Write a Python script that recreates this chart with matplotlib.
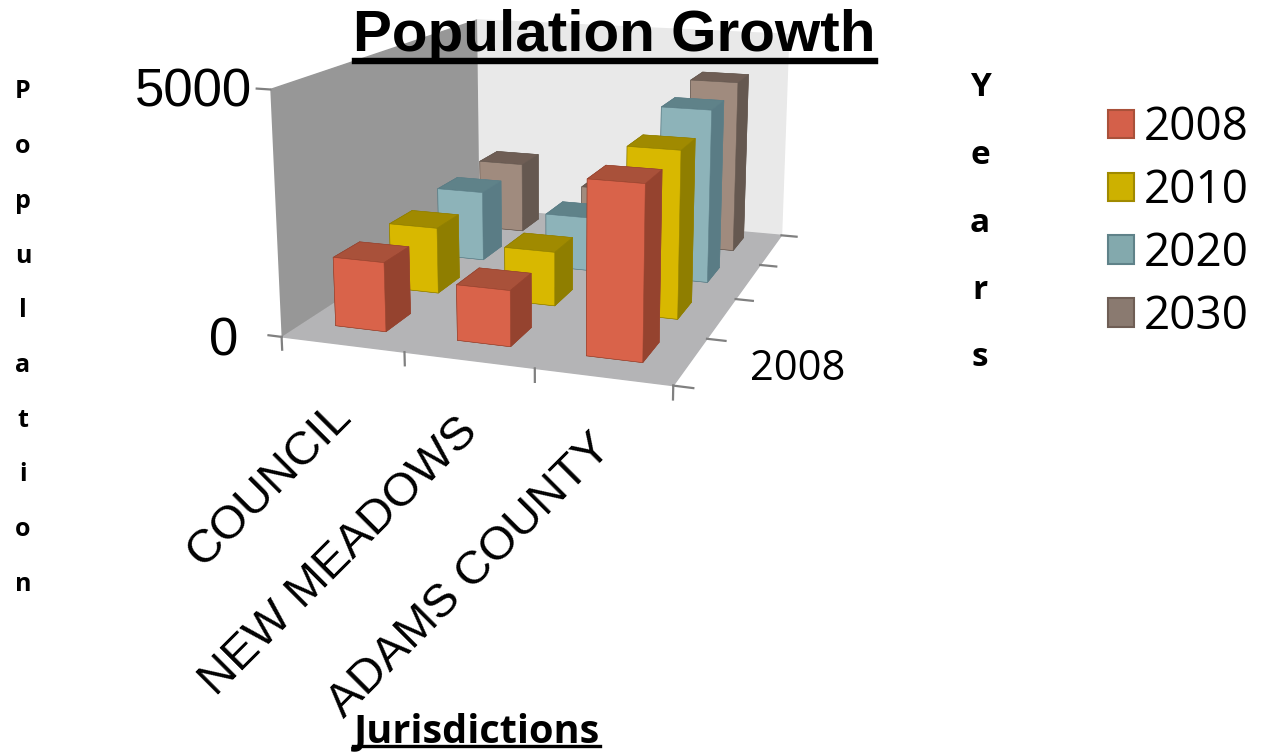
import matplotlib
matplotlib.use('Agg')
import matplotlib.pyplot as plt
from matplotlib.lines import Line2D
from matplotlib.patches import Patch
from mpl_toolkits.mplot3d import proj3d

W, H = 1261, 752

jurisdictions = ['COUNCIL', 'NEW MEADOWS', 'ADAMS COUNTY']
years = ['2008', '2010', '2020', '2030']
pop_2008 = [1450, 1150, 3500]
pop_2010 = [1460, 1180, 3570]
pop_2020 = [1620, 1240, 3900]
pop_2030 = [1700, 1260, 4060]

# face colours: front, top, side
face_cols = {
    '2008': ('#D9634A', '#A9513A', '#95432F'),
    '2010': ('#D8B800', '#A08A00', '#8F7E00'),
    '2020': ('#8DB3B9', '#5F8289', '#5A7C85'),
    '2030': ('#A08B7E', '#6F5E55', '#655850'),
}
legend_cols = ['#D4604A', '#CDB100', '#83A9AD', '#8A7A70']
legend_edges = ['#A9513A', '#A08A00', '#5F8289', '#6F5E55']

plt.rcParams['font.family'] = ['Liberation Sans']

fig = plt.figure(figsize=(W / 100, H / 100), dpi=100)
side = 627.67
ax = fig.add_axes([236.2 / W, 257.96 / H, side / W, side / H], projection='3d')
ax.patch.set_alpha(0)
ax.computed_zorder = False
ax.set_xlim(0, 3, view_margin=0)
ax.set_ylim(0, 4, view_margin=0)
ax.set_zlim(0, 5000, view_margin=0)
ax.set_box_aspect((1.608, 2.112, 1))
ax.view_init(elev=13.44, azim=-71.07)
ax.set_proj_type('persp', focal_length=0.439)

ax.xaxis.set_pane_color('#979797')
ax.yaxis.set_pane_color('#E9E9E9')
ax.zaxis.set_pane_color('#B4B4B6')
for a in (ax.xaxis, ax.yaxis, ax.zaxis):
    a.line.set_color((0, 0, 0, 0))
ax.set_xticks([])
ax.set_yticks([])
ax.set_zticks([])
ax.grid(False)

# bars, far rows first
series = [pop_2008, pop_2010, pop_2020, pop_2030]
bw, bd = 0.42, 0.45
for j in reversed(range(len(years))):
    front, top, sd = face_cols[years[j]]
    for i in range(len(jurisdictions)):
        cols = [top, top, front, front, sd, sd]
        ax.bar3d(i + 0.265, j + 0.36, 0, bw, bd, series[j][i], color=cols, shade=False,
                 edgecolor=sd, linewidth=0.4, zorder=100 - 10 * j + i)

# tick marks
tick_col = '#808080'
for i in range(4):
    ax.plot([i, i], [0, 0], [0, -270], color=tick_col, lw=1.6, zorder=5)
for j in range(5):
    ax.plot([3, 3.14], [j, j], [0, 0], color=tick_col, lw=1.6, zorder=5)
for v in (0, 5000):
    ax.plot([0, -0.11], [0, 0], [v, v], color=tick_col, lw=1.6, zorder=5)


def label_at(x, y, z, text, dx, dy, **kw):
    # place a 2D label next to a projected 3D point
    px, py, _ = proj3d.proj_transform(x, y, z, ax.get_proj())
    ax.annotate(text, (px, py), xytext=(dx, dy), textcoords='offset pixels', zorder=200, **kw)


for i, name in enumerate(jurisdictions):
    label_at(i + 0.5, 0, 0, name, 2, -65, fontsize=34, rotation=45, ha='right', va='center',
             rotation_mode='anchor')
label_at(0, 0, 5000, '5000', -18, -3, fontsize=38, ha='right', va='center')
label_at(0, 0, 0, '0', -43, -5, fontsize=38, ha='right', va='center')
label_at(3, 0.5, 0, years[0], 59, -8, fontsize=30, family='Open Sans', ha='left', va='center')

# titles
fig.text(614 / W, 1 - 36 / H, 'Population Growth', fontsize=42, fontweight='bold', ha='center', va='center')
fig.add_artist(Line2D([355 / W, 875 / W], [1 - 61 / H] * 2, color='black', lw=4.6))
fig.text(477 / W, 1 - 732 / H, 'Jurisdictions', fontsize=28.5, fontweight='bold', family='Open Sans',
         ha='center', va='center')
fig.add_artist(Line2D([353 / W, 600 / W], [1 - 746 / H] * 2, color='black', lw=2.4))

for k, ch in enumerate('Population'):
    fig.text(23 / W, 1 - (92 + 54.7 * k) / H, ch, fontsize=18, fontweight='bold', family='Open Sans',
             ha='center', va='center')
for k, ch in enumerate('Years'):
    fig.text(980 / W, 1 - (88 + 67.5 * k) / H, ch, fontsize=24, fontweight='bold', family='Open Sans',
             ha='center', va='center')

handles = [Patch(facecolor=c, edgecolor=e, lw=1.5) for c, e in zip(legend_cols, legend_edges)]
fig.legend(handles, years, loc='upper left', bbox_to_anchor=(1108 / W, 1 - 105 / H), frameon=False,
           prop={'family': 'Open Sans', 'size': 33}, handlelength=0.57, handleheight=0.58,
           handletextpad=0.2, labelspacing=0.37, borderpad=0, borderaxespad=0)

fig.savefig('out.png', dpi=100)
